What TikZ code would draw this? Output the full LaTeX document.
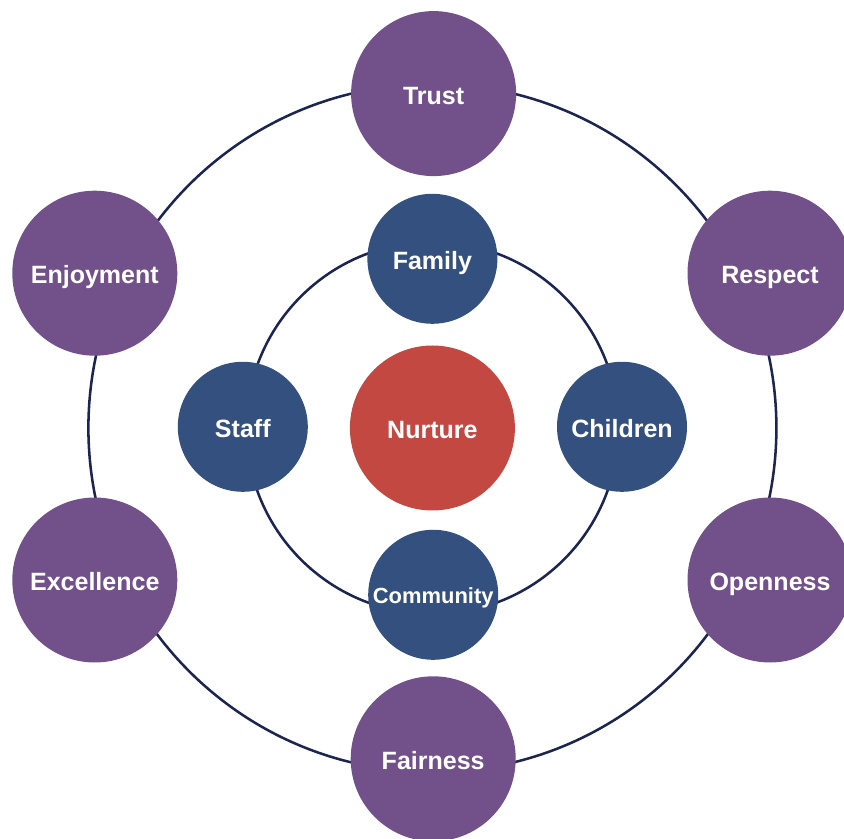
\documentclass[tikz,border=0pt]{standalone}
\usepackage{fontspec}
\setmainfont{Liberation Sans}
\usepackage{tikz}
\usetikzlibrary{positioning}

\definecolor{valuepurple}{HTML}{72518A}
\definecolor{groupblue}{HTML}{33507E}
\definecolor{coreRed}{HTML}{C34841}
\definecolor{ringnavy}{HTML}{1C2452}

\tikzset{
  bubble/.style={circle, inner sep=0pt, text=white, text height=15pt, text depth=0pt,
    font=\fontsize{17.8}{20}\selectfont\bfseries},
  value/.style={bubble, fill=valuepurple, minimum size=4.125cm},
  group/.style={bubble, fill=groupblue, minimum size=3.25cm},
  ring/.style={draw=ringnavy, line width=1.8pt}
}

\begin{document}
\begin{tikzpicture}
				\useasboundingbox (0,0) rectangle (21.1,20.95);
				
				% rings first, circles sit on top
				\coordinate (hub) at (10.81,10.25);
				\draw[ring] (hub) circle (8.6);
				\draw[ring] (hub) circle (4.65);
				
				\node[bubble, fill=coreRed, minimum size=4.125cm] (nurture) at (hub) {Nurture};
				
				\node[group] (family) at (10.81,14.48) {Family};
				\node[group] (staff) at (6.07,10.28) {Staff};
				\node[group] (children) at (15.55,10.28) {Children};
				\node[group, text height=12pt, font=\fontsize{15.6}{18}\selectfont\bfseries] (community) at (10.83,6.08) {Community};
				
				\node[value] (trust) at (10.84,18.61) {Trust};
				\node[value] (respect) at (19.25,14.12) {Respect};
				\node[value] (openness) at (19.25,6.45) {Openness};
				\node[value] (fairness) at (10.83,1.98) {Fairness};
				\node[value] (excellence) at (2.37,6.45) {Excellence};
				\node[value] (enjoyment) at (2.37,14.12) {Enjoyment};
			\end{tikzpicture}
\end{document}
